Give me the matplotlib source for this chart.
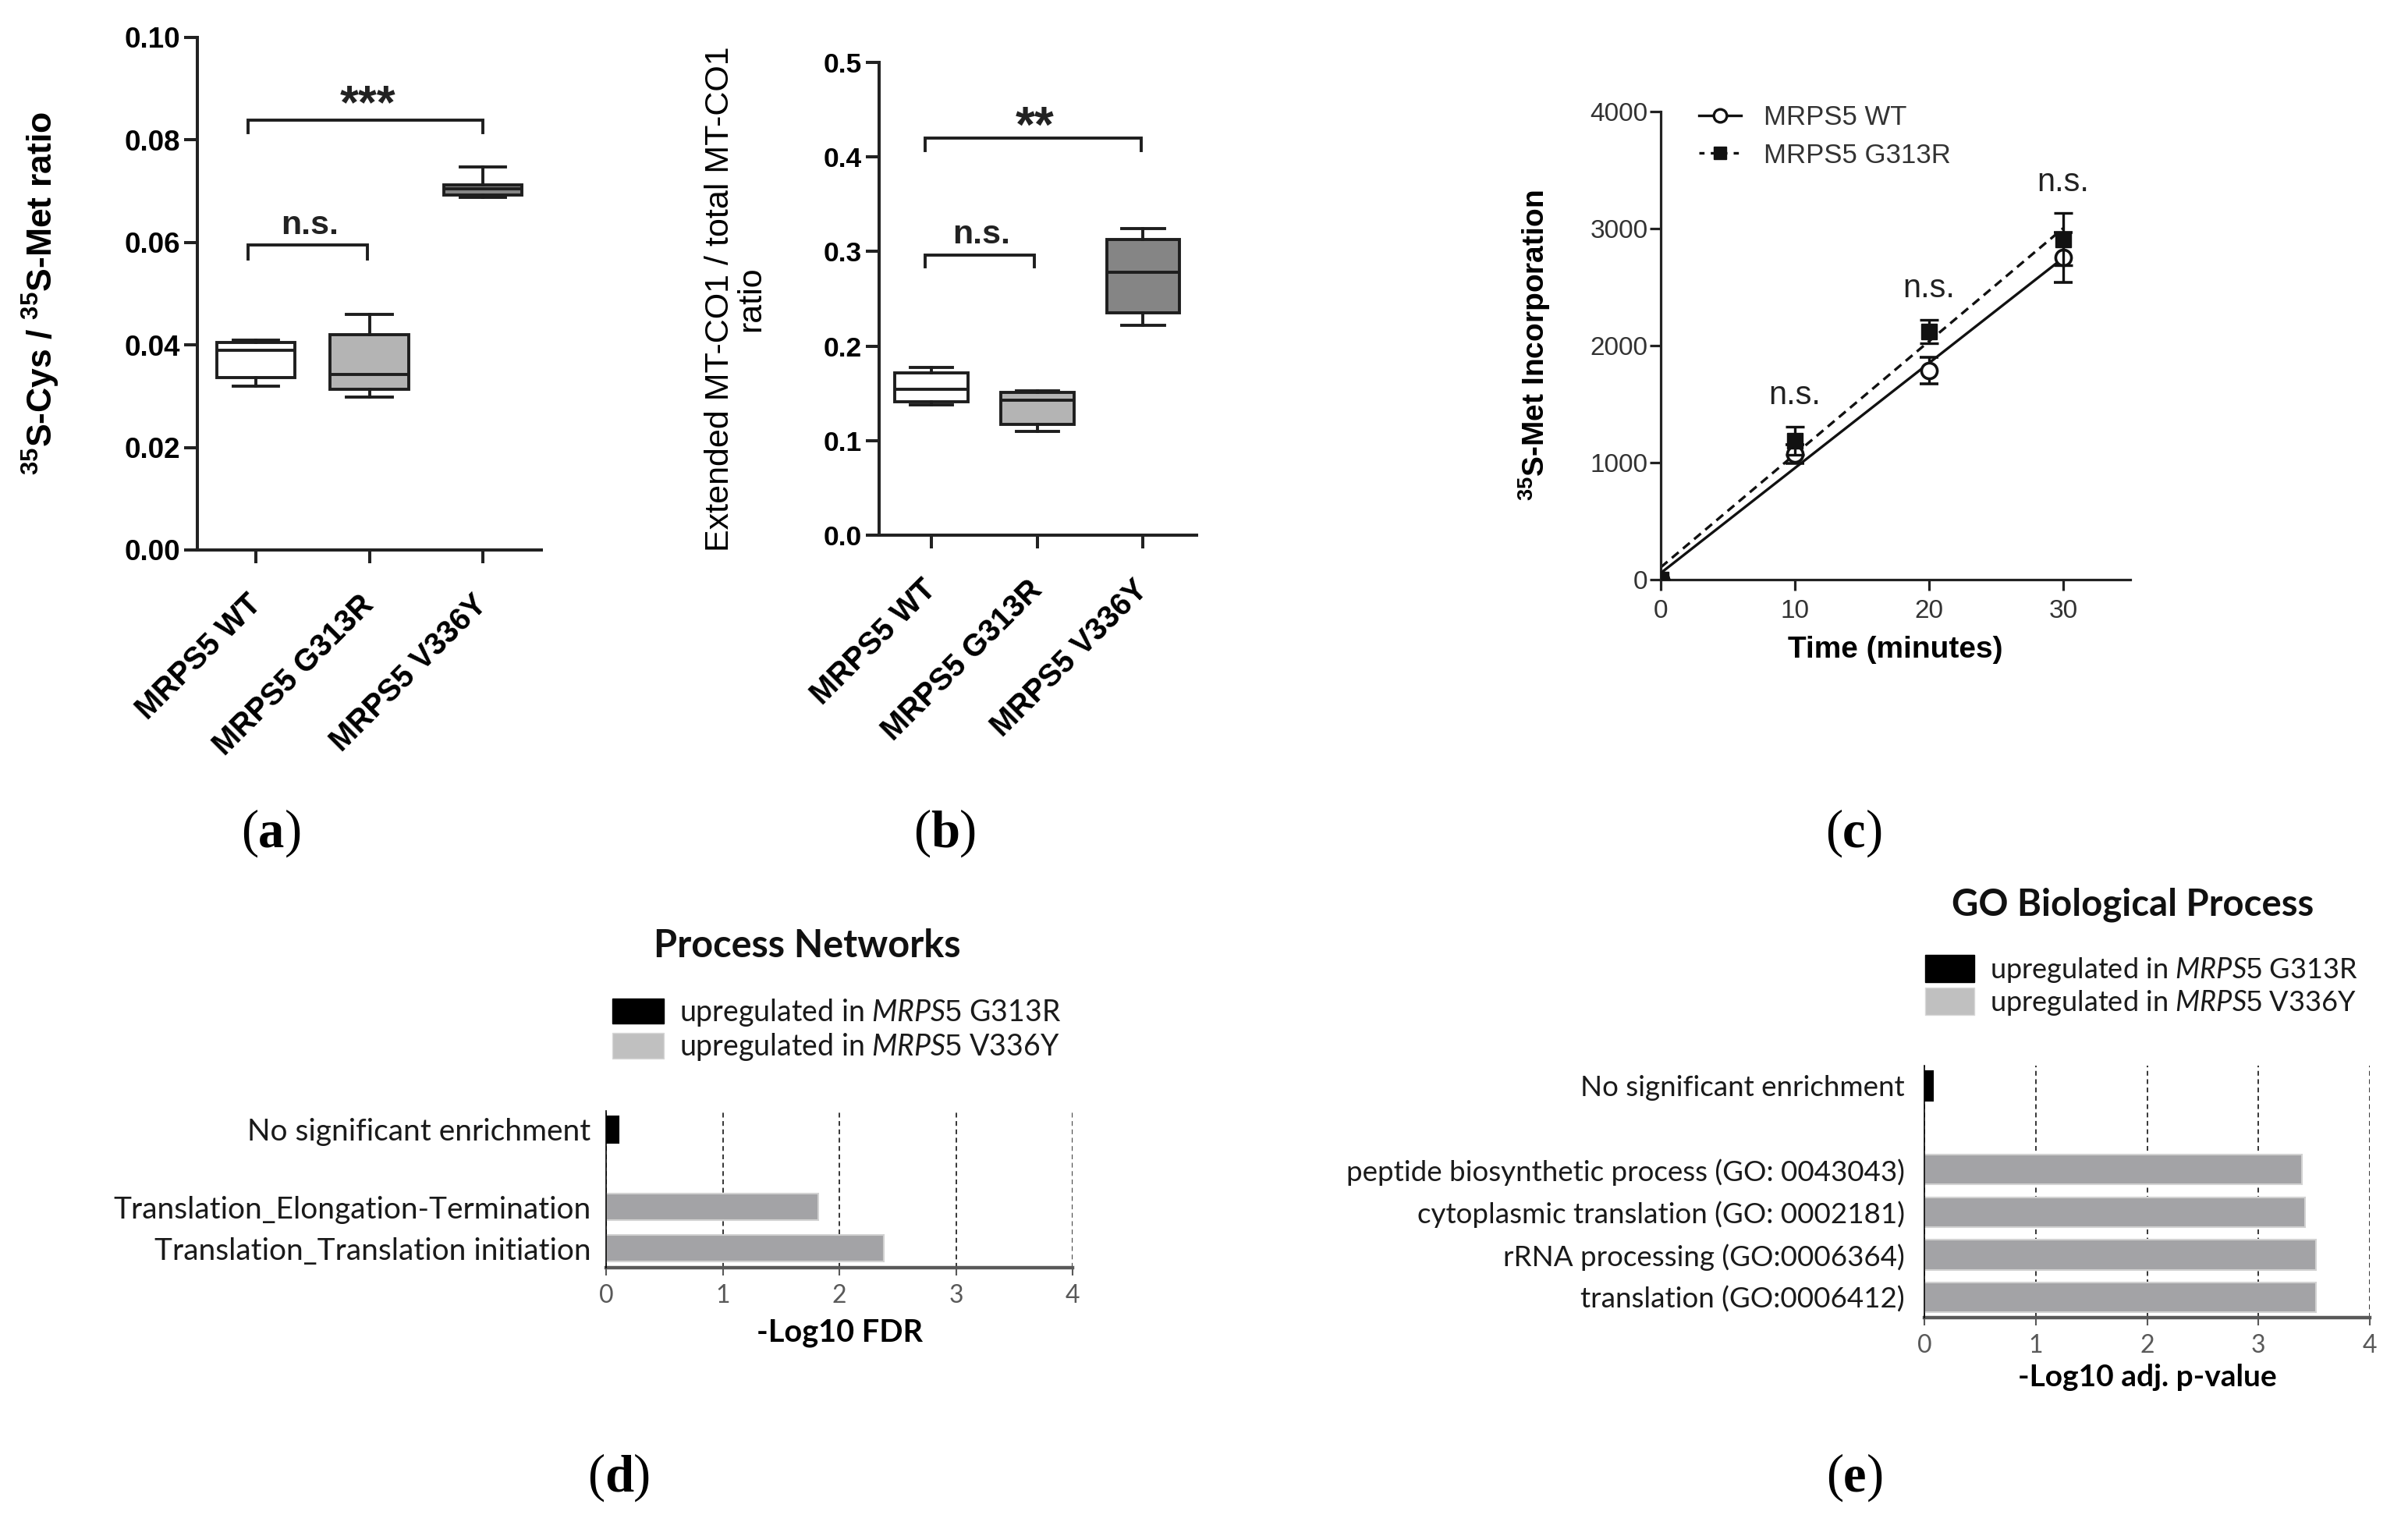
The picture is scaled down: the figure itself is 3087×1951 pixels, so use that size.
import numpy as np
import matplotlib
matplotlib.use('Agg')
import matplotlib.pyplot as plt
from matplotlib.patches import Patch
from matplotlib.lines import Line2D
from matplotlib.ticker import FormatStrFormatter

# ---------------- data ----------------
box_groups = ['MRPS5 WT', 'MRPS5 G313R', 'MRPS5 V336Y']
box_fills = ['#ffffff', '#b4b4b4', '#858585']

a_whislo = [0.0320, 0.0298, 0.0688]
a_q1 = [0.0337, 0.0314, 0.0692]
a_med = [0.0390, 0.0343, 0.0704]
a_q3 = [0.0405, 0.0420, 0.0712]
a_whishi = [0.0410, 0.0459, 0.0748]

b_whislo = [0.1376, 0.1100, 0.2220]
b_q1 = [0.1410, 0.1175, 0.2355]
b_med = [0.1545, 0.1430, 0.2780]
b_q3 = [0.1720, 0.1510, 0.3130]
b_whishi = [0.1770, 0.1530, 0.3240]

time_min = [0, 10, 20, 30]
wt_mean = [0, 1070, 1787, 2753]
wt_err = [0, 80, 115, 211]
g313r_mean = [0, 1187, 2120, 2909]
g313r_err = [0, 120, 100, 222]
series_names = ['MRPS5 WT', 'MRPS5 G313R']

d_terms = ['Translation_Translation initiation',
           'Translation_Elongation-Termination',
           'No significant enrichment']
d_values = [2.38, 1.82, 0.11]
d_is_g313r = [False, False, True]

e_terms = ['translation (GO:0006412)',
           'rRNA processing (GO:0006364)',
           'cytoplasmic translation (GO: 0002181)',
           'peptide biosynthetic process (GO: 0043043)',
           'No significant enrichment']
e_values = [3.52, 3.52, 3.42, 3.39, 0.08]
e_is_g313r = [False, False, False, False, True]

legend_labels = [r'upregulated in $\mathit{MRPS5}$ G313R',
                 r'upregulated in $\mathit{MRPS5}$ V336Y']

# ---------------- style ----------------
plt.rcParams['font.family'] = ['Liberation Sans', 'DejaVu Sans']
plt.rcParams['mathtext.fontset'] = 'custom'
plt.rcParams['mathtext.rm'] = 'Liberation Sans'
plt.rcParams['mathtext.bf'] = 'Liberation Sans:bold'
plt.rcParams['mathtext.it'] = 'Lato:italic'

W, H = 3087, 1951
DPI = 100
fig = plt.figure(figsize=(W / DPI, H / DPI), dpi=DPI)
fig.patch.set_facecolor('white')


def rect(left, top, right, bottom):
    return [left / W, 1 - bottom / H, (right - left) / W, (bottom - top) / H]


ax0 = fig.add_axes([0, 0, 1, 1])
ax0.axis('off')
ax0.set_xlim(0, W)
ax0.set_ylim(H, 0)

EDGE = '#1e1e1e'


def box_panel(ax, whislo, q1, med, q3, whishi, xlim, ylim, yticks, fmt,
              brackets, tick_fs):
    stats = []
    for i in range(len(box_groups)):
        stats.append(dict(med=med[i], q1=q1[i], q3=q3[i],
                          whislo=whislo[i], whishi=whishi[i], fliers=[]))
    bp = ax.bxp(stats, positions=[1, 2, 3], widths=0.69, capwidths=0.4,
                showfliers=False, patch_artist=True,
                boxprops=dict(linewidth=2.8, edgecolor=EDGE),
                medianprops=dict(linewidth=2.8, color=EDGE),
                whiskerprops=dict(linewidth=2.8, color=EDGE),
                capprops=dict(linewidth=2.8, color=EDGE))
    for patch, fc in zip(bp['boxes'], box_fills):
        patch.set_facecolor(fc)
    ax.set_xlim(*xlim)
    ax.set_ylim(*ylim)
    ax.set_yticks(yticks)
    ax.yaxis.set_major_formatter(FormatStrFormatter(fmt))
    for s in ['top', 'right']:
        ax.spines[s].set_visible(False)
    for s in ['left', 'bottom']:
        ax.spines[s].set_linewidth(2.9)
        ax.spines[s].set_color('#222222')
    ax.tick_params(axis='both', direction='out', length=12, width=2.9,
                   color='#222222')
    ax.tick_params(axis='y', labelsize=tick_fs, pad=4)
    ax.tick_params(axis='x', pad=34)
    ax.set_xticks([1, 2, 3])
    ax.set_xticklabels(box_groups, rotation=45, ha='right', va='center',
                       rotation_mode='anchor', fontsize=28.5,
                       fontweight='bold')
    for lab in ax.get_yticklabels():
        lab.set_fontweight('bold')
    for (x0, x1, ybot, ytop, txt, ty, fs) in brackets:
        ax.plot([x0, x0, x1, x1], [ybot, ytop, ytop, ybot], color=EDGE,
                lw=2.8, solid_joinstyle='miter', clip_on=False)
        ax.text((x0 + x1) / 2 + 0.02, ty, txt, ha='center', va='center',
                fontsize=fs, fontweight='bold', color='#222222')


# ---------------- panel (a) ----------------
axa = fig.add_axes(rect(253, 48, 694, 705))
box_panel(axa, a_whislo, a_q1, a_med, a_q3, a_whishi,
          (0.48, 3.52), (0, 0.10), np.arange(0, 0.1001, 0.02), '%.2f',
          [(0.93, 3.0, 0.0815, 0.0839, '***', 0.0866, 44),
           (0.93, 1.98, 0.0568, 0.0595, 'n.s.', 0.0633, 31)], 26.5)
axa.set_ylabel(r'$^{\mathbf{35}}$S-Cys / $^{\mathbf{35}}$S-Met ratio',
               fontsize=32, fontweight='bold', va='center')
axa.yaxis.set_label_coords(-0.456, 0.5)

# ---------------- panel (b) ----------------
axb = fig.add_axes(rect(1127, 80, 1534, 686))
box_panel(axb, b_whislo, b_q1, b_med, b_q3, b_whishi,
          (0.506, 3.505), (0, 0.5), np.arange(0, 0.501, 0.1), '%.1f',
          [(0.94, 2.98, 0.407, 0.4196, '**', 0.430, 46),
           (0.94, 1.97, 0.284, 0.296, 'n.s.', 0.318, 31)], 25.5)
axb.set_ylabel('Extended MT-CO1 / total MT-CO1\nratio', fontsize=31,
               va='center', linespacing=1.0)
axb.yaxis.set_label_coords(-0.452, 0.5)

# ---------------- panel (c) ----------------
axc = fig.add_axes(rect(2129, 143, 2731, 743))
tt = np.array(time_min, dtype=float)
fit_x = np.array([0.0, 30.0])
wt_fit = np.polyfit(tt, wt_mean, 1)
g_fit = np.polyfit(tt, g313r_mean, 1)
axc.plot(fit_x, np.polyval(wt_fit, fit_x), color='#111111', lw=2.4,
         zorder=2)
axc.plot(fit_x, np.polyval(g_fit, fit_x), color='#111111', lw=2.4,
         ls=(0, (3.4, 2.2)), zorder=2)
axc.errorbar(tt, wt_mean, yerr=wt_err, fmt='o', ms=14.5, mfc='white',
             mec='#111111', mew=2.6, ecolor='#111111', elinewidth=2.4,
             capsize=8.5, capthick=2.4, zorder=3)
axc.errorbar(tt, g313r_mean, yerr=g313r_err, fmt='s', ms=14.5,
             mfc='#111111', mec='#111111', ecolor='#111111',
             elinewidth=2.4, capsize=8.5, capthick=2.4, zorder=4)
for xi, m, e in zip(tt[1:], g313r_mean[1:], g313r_err[1:]):
    axc.text(xi, m + e + 265, 'n.s.', ha='center', va='center',
             fontsize=30, color='#222222')
axc.set_xlim(0, 35)
axc.set_ylim(0, 4000)
axc.set_xticks([0, 10, 20, 30])
axc.set_yticks([0, 1000, 2000, 3000, 4000])
for s in ['top', 'right']:
    axc.spines[s].set_visible(False)
for s in ['left', 'bottom']:
    axc.spines[s].set_linewidth(2.3)
    axc.spines[s].set_color('#222222')
axc.tick_params(axis='both', direction='out', length=10, width=2.3,
                color='#222222', labelsize=24, labelcolor='#333333')
axc.tick_params(axis='x', pad=8)
axc.tick_params(axis='y', pad=2)
axc.set_xlabel('Time (minutes)', fontsize=28, fontweight='bold', va='center')
axc.xaxis.set_label_coords(0.5, -0.15)
axc.set_ylabel(r'$^{\mathbf{35}}$S-Met Incorporation', fontsize=28,
               fontweight='bold', va='center')
axc.yaxis.set_label_coords(-0.269, 0.5)
leg_handles = [Line2D([], [], color='#111111', lw=2.4, marker='o', ms=12,
                      mfc='white', mec='#111111', mew=2.4),
               Line2D([], [], color='#111111', lw=2.4, ls=(0, (2, 2.4)),
                      marker='s', ms=12, mfc='#111111', mec='#111111')]
axc.legend(leg_handles, series_names, loc='upper left',
           bbox_to_anchor=(2178 / W, 1 - 134 / H),
           bbox_transform=fig.transFigure, frameon=False, fontsize=25,
           handlelength=1.55, handletextpad=0.85, labelspacing=0.45,
           borderpad=0, borderaxespad=0, labelcolor='#333333')

# ---------------- panels (d) and (e) ----------------
BAR_GRAY = '#a3a3a6'
BAR_EDGE = '#d2d2d2'
LEG_GRAY = '#c0c0c0'
SANS2 = ['Lato', 'DejaVu Sans']


def enrich_panel(ax, terms, values, is_g, positions, ylim, height,
                 label_fs, tick_pad, title, title_xy, title_fs, xlabel,
                 xlabel_y, xlabel_fs, leg_anchor, leg_fs, leg_hh):
    colors = ['black' if g else BAR_GRAY for g in is_g]
    edges = ['black' if g else BAR_EDGE for g in is_g]
    ax.barh(positions, values, height=height, color=colors,
            edgecolor=edges, linewidth=1.5, zorder=3)
    ax.set_xlim(0, 4)
    ax.set_ylim(*ylim)
    ax.set_xticks([0, 1, 2, 3, 4])
    ax.set_yticks(positions)
    ax.set_yticklabels(terms, fontsize=label_fs, family=SANS2,
                       color='#1a1a1a')
    ax.tick_params(axis='y', length=0, pad=tick_pad)
    ax.tick_params(axis='x', length=7, width=1.5, color='#595959',
                   labelsize=23, labelcolor='#595959', pad=8)
    for lab in ax.get_xticklabels():
        lab.set_family(SANS2)
    ax.xaxis.grid(True, color='black', lw=1.1, ls=(0, (4, 3)), zorder=1)
    ax.set_axisbelow(True)
    for s in ['top', 'right']:
        ax.spines[s].set_visible(False)
    ax.spines['left'].set_linewidth(1.2)
    ax.spines['left'].set_color('black')
    ax.spines['left'].set_zorder(4)
    ax.spines['bottom'].set_linewidth(3.2)
    ax.spines['bottom'].set_color('#595959')
    ax.set_xlabel(xlabel, fontsize=xlabel_fs, fontweight='bold',
                  family=SANS2, va='center')
    ax.xaxis.set_label_coords(0.5, xlabel_y)
    ax.text(title_xy[0], title_xy[1], title, transform=ax.transAxes,
            ha='center', va='center', fontsize=title_fs, fontweight='bold',
            family=SANS2, color='#111111')
    handles = [Patch(facecolor='black', edgecolor='black'),
               Patch(facecolor=LEG_GRAY, edgecolor='#d8d8d8')]
    leg = ax.legend(handles, legend_labels, loc='upper left',
                    bbox_to_anchor=leg_anchor, bbox_transform=fig.transFigure,
                    frameon=False, handlelength=1.75,
                    handleheight=leg_hh, handletextpad=0.55,
                    labelspacing=0.12, borderpad=0, borderaxespad=0,
                    prop={'family': SANS2, 'size': leg_fs})
    for t in leg.get_texts():
        t.set_color('#1a1a1a')


axd = fig.add_axes(rect(777, 1424, 1375, 1625))
enrich_panel(axd, d_terms, d_values, d_is_g313r, [0, 1, 2.87],
             (-0.47, 3.32), 0.65, 28, 14,
             'Process Networks', ((1035 - 777) / 598, (1625 - 1212) / 201),
             35, '-Log10 FDR', -0.413, 28.5, (785 / W, 1 - 1278 / H), 27,
             0.95)

axe = fig.add_axes(rect(2467, 1366, 3038, 1689))
enrich_panel(axe, e_terms, e_values, e_is_g313r, [0, 1, 2, 3, 4.97],
             (-0.475, 5.44), 0.70, 26.5, 18,
             'GO Biological Process',
             ((2734 - 2467) / 571, (1689 - 1160) / 323),
             34, '-Log10 adj. p-value', -0.238, 28,
             (2468 / W, 1 - 1224 / H), 26, 1.1)

# ---------------- panel labels ----------------
SERIF = ['Liberation Serif', 'DejaVu Serif']


def panel_label(xc, baseline, letter):
    t1 = ax0.text(xc - 39, baseline, '(', ha='left', va='baseline',
                  fontsize=48, family=SERIF)
    t2 = ax0.annotate(letter, xy=(1, 0), xycoords=t1, ha='left',
                      va='bottom', fontsize=48, family=SERIF,
                      fontweight='bold')
    ax0.annotate(')', xy=(1, 0), xycoords=t2, ha='left', va='bottom',
                 fontsize=48, family=SERIF)


for xc, yb, letter in [(348, 1085, 'a'), (1210, 1085, 'b'),
                       (2379, 1085, 'c'), (792, 1911, 'd'),
                       (2380, 1911, 'e')]:
    panel_label(xc, yb, letter)

fig.savefig('out.png', dpi=DPI, facecolor='white')
